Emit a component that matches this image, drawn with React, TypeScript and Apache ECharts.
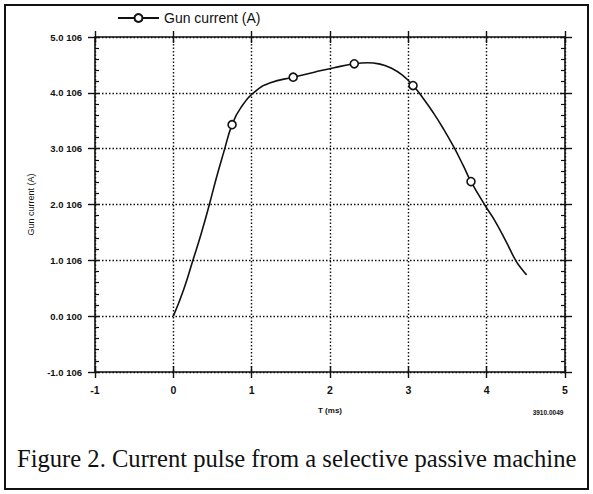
import React, { useEffect, useRef } from "react";
import * as echarts from "echarts";

// Curve samples: time (ms), gun current (10^6 A)
const curveT = [0, 0.13, 0.25, 0.36, 0.46, 0.55, 0.64, 0.86, 1.05, 1.24, 1.8, 2.05, 2.48, 2.65, 2.77, 2.92, 3.2, 3.32, 3.45, 3.58, 3.7, 3.99, 4.1, 4.25, 4.37, 4.45, 4.51];
const curveI = [0, 0.47, 1.0, 1.5, 2.0, 2.48, 2.92, 3.73, 4.03, 4.18, 4.37, 4.45, 4.54, 4.51, 4.45, 4.32, 3.88, 3.64, 3.35, 3.03, 2.7, 1.96, 1.72, 1.33, 1.0, 0.84, 0.74];
// Marked samples (open circles)
const markerT = [0.75, 1.53, 2.31, 3.06, 3.8];
const markerI = [3.43, 4.28, 4.52, 4.13, 2.41];

const xTicks = [-1, 0, 1, 2, 3, 4, 5];
const yTickValues = [-1, 0, 1, 2, 3, 4, 5];
const yTickLabels = ["-1.0 106", "0.0 100", "1.0 106", "2.0 106", "3.0 106", "4.0 106", "5.0 106"];

const seriesName = "Gun current (A)";
const yAxisName = "Gun current (A)";
const xAxisName = "T (ms)";
const figureId = "3910.0049";
const caption = "Figure 2. Current pulse from a selective passive machine";

const SANS = "'Liberation Sans', Arial, sans-serif";
const SERIF = "'Liberation Serif', 'Times New Roman', serif";

export default function App() {
  const ref = useRef<HTMLDivElement>(null);
  useEffect(() => {
    if (!ref.current) return;
    const chart = echarts.init(ref.current, undefined, { renderer: "svg" });

    const pts: any[] = [];
    curveT.forEach((t, i) => pts.push({ value: [t, curveI[i]], symbol: "none" }));
    markerT.forEach((t, i) => pts.push({ value: [t, markerI[i]] }));
    pts.sort((a, b) => a.value[0] - b.value[0]);

    const black = "#111";
    const base = {
      type: "value" as const,
      min: xTicks[0],
      max: xTicks[xTicks.length - 1],
      interval: 1,
    };
    const yBase = {
      type: "value" as const,
      min: yTickValues[0],
      max: yTickValues[yTickValues.length - 1],
      interval: 1,
    };
    const gridLine = { show: true, lineStyle: { color: black, width: 1.4, type: [1.5, 2] as any } };

    chart.setOption({
      animation: false,
      backgroundColor: "#fff",
      grid: { left: 95, right: 28, top: 37, bottom: 122, containLabel: false },
      legend: {
        left: 112,
        top: 6,
        itemWidth: 41,
        itemHeight: 10,
        itemGap: 5,
        textStyle: { fontFamily: SANS, fontSize: 14, color: black },
        data: [seriesName],
      },
      xAxis: [
        {
          ...base,
          position: "bottom",
          axisLine: { show: true, onZero: false, lineStyle: { color: black, width: 1.6 } },
          axisTick: { show: true, inside: false, length: 6, lineStyle: { color: black, width: 1.4 } },
          axisLabel: { show: true, margin: 12, fontFamily: SANS, fontSize: 10.5, fontWeight: "bold", color: black },
          splitLine: gridLine,
          name: xAxisName,
          nameLocation: "middle",
          nameGap: 34,
          nameTextStyle: { fontFamily: SANS, fontSize: 8, fontWeight: "bold", color: black },
        },
        {
          ...base,
          position: "bottom",
          axisLine: { show: false, onZero: false },
          axisTick: { show: true, inside: true, length: 6, lineStyle: { color: black, width: 1.4 } },
          axisLabel: { show: false },
          splitLine: { show: false },
        },
        {
          ...base,
          position: "top",
          axisLine: { show: true, onZero: false, lineStyle: { color: black, width: 1.6 } },
          axisTick: { show: true, inside: false, length: 6, lineStyle: { color: black, width: 1.4 } },
          axisLabel: { show: false },
          splitLine: { show: false },
        },
        {
          ...base,
          position: "top",
          axisLine: { show: false, onZero: false },
          axisTick: { show: true, inside: true, length: 6, lineStyle: { color: black, width: 1.4 } },
          axisLabel: { show: false },
          splitLine: { show: false },
        },
      ],
      yAxis: [
        {
          ...yBase,
          position: "left",
          axisLine: { show: true, onZero: false, lineStyle: { color: black, width: 1.6 } },
          axisTick: { show: true, inside: false, length: 7, lineStyle: { color: black, width: 1.4 } },
          axisLabel: {
            show: true,
            margin: 13,
            fontFamily: SANS,
            fontSize: 9.5,
            fontWeight: "bold",
            color: black,
            formatter: (v: number) => yTickLabels[yTickValues.indexOf(Math.round(v))] ?? "",
          },
          splitLine: gridLine,
          name: yAxisName,
          nameLocation: "middle",
          nameGap: 60,
          nameTextStyle: { fontFamily: SANS, fontSize: 9, color: black },
        },
        {
          ...yBase,
          position: "left",
          axisLine: { show: false, onZero: false },
          axisTick: { show: true, inside: true, length: 4, lineStyle: { color: black, width: 1.4 } },
          minorTick: { show: true, splitNumber: 5, length: 4, lineStyle: { color: black, width: 1.2 } },
          axisLabel: { show: false },
          splitLine: { show: false },
        },
        {
          ...yBase,
          position: "right",
          axisLine: { show: true, onZero: false, lineStyle: { color: black, width: 1.6 } },
          axisTick: { show: true, inside: false, length: 7, lineStyle: { color: black, width: 1.4 } },
          axisLabel: { show: false },
          splitLine: { show: false },
        },
        {
          ...yBase,
          position: "right",
          axisLine: { show: false, onZero: false },
          axisTick: { show: true, inside: true, length: 5, lineStyle: { color: black, width: 1.4 } },
          minorTick: { show: true, splitNumber: 5, length: 4, lineStyle: { color: black, width: 1.2 } },
          axisLabel: { show: false },
          splitLine: { show: false },
        },
      ],
      series: [
        {
          name: seriesName,
          type: "line",
          xAxisIndex: 0,
          yAxisIndex: 0,
          data: pts,
          smooth: 0.5,
          showSymbol: true,
          showAllSymbol: true,
          symbol: "circle",
          symbolSize: 8,
          lineStyle: { color: black, width: 1.6 },
          itemStyle: { color: "#fff", borderColor: black, borderWidth: 1.6 },
          emphasis: { disabled: true },
          z: 5,
        },
      ],
      graphic: [
        {
          type: "rect",
          shape: { x: 5, y: 5, width: 583, height: 484 },
          style: { fill: "none", stroke: black, lineWidth: 2 },
          silent: true,
        },
        {
          type: "text",
          x: 548,
          y: 412,
          style: {
            text: figureId,
            fontFamily: SANS,
            fontSize: 6.5,
            fontWeight: "bold",
            fill: black,
            align: "center",
            verticalAlign: "middle",
          },
        },
        {
          type: "text",
          x: 17,
          y: 458,
          style: {
            text: caption,
            fontFamily: SERIF,
            fontSize: 24.6,
            fill: black,
            align: "left",
            verticalAlign: "middle",
          },
        },
      ],
    });
    return () => chart.dispose();
  }, []);

  return (
    <div
      ref={ref}
      style={{ position: "absolute", left: 0, top: 0, width: 593, height: 494, background: "#fff" }}
    />
  );
}
